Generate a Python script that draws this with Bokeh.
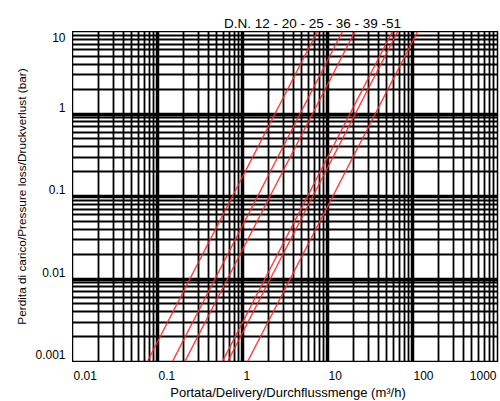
import math
from bokeh.plotting import figure
from bokeh.layouts import gridplot
from bokeh.models import FixedTicker, Range1d
from bokeh.core.properties import value
from bokeh.embed import file_html
from bokeh.resources import INLINE

# ---- data ----
dn_sizes = ["12", "20", "25", "36", "39", "51"]
flow_at_low_loss = [0.076, 0.15, 0.21, 0.58, 0.67, 1.15]    # m3/h at 0.001 bar
flow_at_high_loss = [7.6, 15.0, 21.0, 58.0, 67.0, 115.0]    # m3/h at 10 bar
loss_low = 0.001
loss_high = 10.0

x_ticks = [0.01, 0.1, 1, 10, 100, 1000]
x_tick_labels = ["0.01", "0.1", "1", "10", "100", "1000"]
y_ticks = [0.001, 0.01, 0.1, 1, 10]
y_tick_labels = ["0.001", "0.01", "0.1", "1", "10"]
minor_mult = [2, 3, 4, 5, 6, 7, 8, 9]

title_text = "D.N. 12 - 20 - 25 - 36 - 39 -51"
x_title = "Portata/Delivery/Durchflussmenge (m\u00b3/h)"
y_title = "Perdita di carico/Pressure loss/Druckverlust (bar)"

FONT = "Liberation Sans"

x_min, x_max = x_ticks[0], x_ticks[-1]
y_min, y_max = y_ticks[0], y_ticks[-1]

LEFT_W = 72       # label column width
MAIN_W = 428      # main column width
TOP_H = 31        # title row height
MAIN_H = 331      # plot row height
BOT_H = 39        # x label row height
RIGHT_B = 3


def blank(width, height, **kw):
    f = figure(width=width, height=height, output_backend="svg", toolbar_location=None,
               min_border=0, **kw)
    f.xaxis.visible = False
    f.yaxis.visible = False
    f.xgrid.visible = False
    f.ygrid.visible = False
    f.outline_line_color = None
    f.background_fill_color = "white"
    f.border_fill_color = "white"
    return f


# ---- main chart ----
p = figure(width=MAIN_W, height=MAIN_H, x_axis_type="log", y_axis_type="log",
           x_range=Range1d(x_min, x_max), y_range=Range1d(y_min, y_max),
           output_backend="svg", toolbar_location=None,
           min_border_left=0, min_border_right=RIGHT_B, min_border_top=0, min_border_bottom=1)
p.background_fill_color = "white"
p.border_fill_color = "white"
p.outline_line_color = "black"
p.outline_line_width = 1.5
p.xaxis.visible = False
p.yaxis.visible = False

x_minor = [m * t for t in x_ticks[:-1] for m in minor_mult]
y_minor = [m * t for t in y_ticks[:-1] for m in minor_mult]
p.xgrid.ticker = FixedTicker(ticks=x_ticks, minor_ticks=x_minor)
p.ygrid.ticker = FixedTicker(ticks=y_ticks, minor_ticks=y_minor)
for g in (p.xgrid, p.ygrid):
    g.grid_line_color = "black"
    g.grid_line_width = 3.5
    g.grid_line_alpha = 1.0
    g.minor_grid_line_color = "black"
    g.minor_grid_line_width = 1.8

for q0, q1 in zip(flow_at_low_loss, flow_at_high_loss):
    p.line([q0, q1], [loss_low, loss_high], line_color="#ff2a2a", line_width=1.5, line_alpha=0.9)

# ---- title row ----
t_fig = blank(MAIN_W, TOP_H, x_range=Range1d(0, MAIN_W - RIGHT_B), y_range=Range1d(0, TOP_H),
              min_border_right=RIGHT_B)
t_fig.text(x=[240], y=[7.7], text=[title_text], text_align="center", text_baseline="alphabetic",
           text_font=value(FONT), text_font_size="13.5px", text_color="black")

# ---- y labels column ----
yl = blank(LEFT_W, MAIN_H, x_range=Range1d(0, LEFT_W), y_range=p.y_range,
           y_axis_type="log", min_border_bottom=1)
body_ticks = [t for t in y_ticks if t != y_max]
body_labels = [s for t, s in zip(y_ticks, y_tick_labels) if t != y_max]
yl.text(x=[65] * len(body_ticks), y=body_ticks, text=body_labels, y_offset=-2.5,
        text_align="right", text_baseline="bottom",
        text_font=value(FONT), text_font_size="12px", text_color="black")
yl.text(x=[65], y=[y_max], text=[y_tick_labels[-1]], y_offset=1,
        text_align="right", text_baseline="top",
        text_font=value(FONT), text_font_size="12px", text_color="black")
yl.text(x=[21], y=[math.sqrt(y_min * y_max)], text=[y_title], angle=math.pi / 2,
        text_align="center", text_baseline="middle",
        text_font=value(FONT), text_font_size="11.8px", text_color="black")

# ---- x labels row ----
xl = blank(MAIN_W, BOT_H, x_range=p.x_range, y_range=Range1d(0, BOT_H),
           x_axis_type="log", min_border_right=RIGHT_B)
inner = [t for t in x_ticks if t != x_max]
inner_lab = [s for t, s in zip(x_ticks, x_tick_labels) if t != x_max]
xl.text(x=inner, y=[26] * len(inner), text=inner_lab, x_offset=1,
        text_align="left", text_baseline="alphabetic",
        text_font=value(FONT), text_font_size="12px", text_color="black")
xl.text(x=[x_max], y=[26], text=[x_tick_labels[-1]], x_offset=-1,
        text_align="right", text_baseline="alphabetic",
        text_font=value(FONT), text_font_size="12px", text_color="black")
xl.text(x=[math.sqrt(x_min * x_max)], y=[9], text=[x_title], x_offset=3,
        text_align="center", text_baseline="alphabetic",
        text_font=value(FONT), text_font_size="13px", text_color="black")

grid = gridplot([[None, t_fig], [yl, p], [None, xl]], toolbar_location=None)

open("out.html", "w").write(file_html(grid, INLINE))
